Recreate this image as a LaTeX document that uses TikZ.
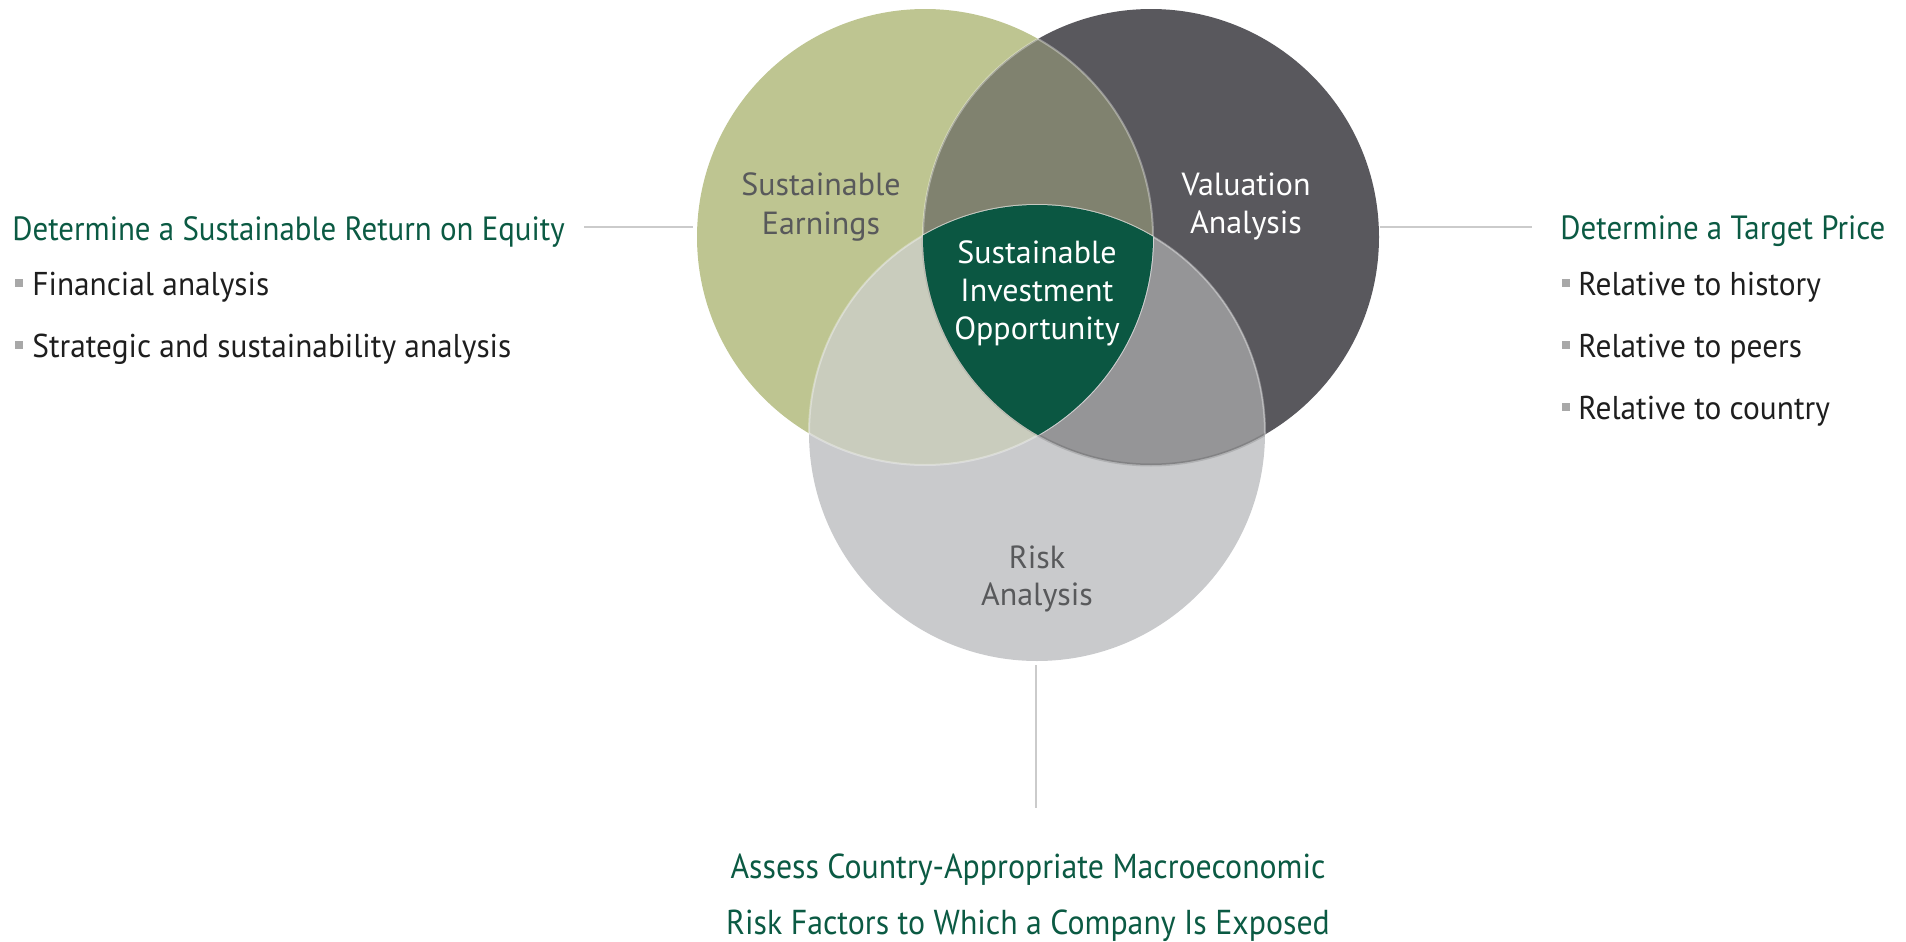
\documentclass[tikz,border=0pt]{standalone}
\usepackage{fontspec}
\setmainfont{PT Sans}
\newfontfamily\hfont[FakeStretch=0.92]{PT Sans}
\newfontfamily\ifont[FakeStretch=0.95]{PT Sans}
\definecolor{cG}{HTML}{BEC591}
\definecolor{cD}{HTML}{59585D}
\definecolor{cR}{HTML}{C9CACC}
\definecolor{cGD}{HTML}{80826F}
\definecolor{cGR}{HTML}{C9CCBD}
\definecolor{cDR}{HTML}{959597}
\definecolor{cT}{HTML}{0B5742}
\definecolor{hgreen}{HTML}{0B5A43}
\definecolor{lblgray}{HTML}{58595B}
\definecolor{itemc}{HTML}{1E1E1E}
\definecolor{sqc}{HTML}{A8A8A8}
\definecolor{connc}{HTML}{CBCBCB}
\begin{document}
\begin{tikzpicture}[x=0.5pt,y=-0.5pt,
  lbl/.style={inner sep=0, anchor=base, font=\fontsize{16}{19}\selectfont},
  hdr/.style={inner sep=0, anchor=base west, text=hgreen, font=\hfont\fontsize{16.8}{18}\selectfont},
  bot/.style={inner sep=0, anchor=base, text=hgreen, font=\hfont\fontsize{17.3}{18}\selectfont},
  item/.style={inner sep=0, anchor=base west, text=itemc, font=\ifont\fontsize{16.5}{18}\selectfont},
  sq/.style={fill=sqc, minimum size=4pt, inner sep=0},
  conn/.style={draw=connc, line width=1pt},
  litedge/.style={draw=white, draw opacity=0.35, line width=1pt},
  darkedge/.style={draw=black, draw opacity=0.12, line width=1.5pt}]
\def\r{114pt}
\useasboundingbox (0,0) rectangle (1906,942);
\coordinate (cg) at (925,237);
\coordinate (cd) at (1151,237);
\coordinate (cr) at (1037,433);
% base circles
\fill[cG] (cg) circle[radius=\r];
\fill[cD] (cd) circle[radius=\r];
\fill[cR] (cr) circle[radius=\r];
% pairwise overlaps
\begin{scope}
  \clip (cg) circle[radius=\r];
  \fill[cGD] (cd) circle[radius=\r];
  \fill[cGR] (cr) circle[radius=\r];
\end{scope}
\begin{scope}
  \clip (cd) circle[radius=\r];
  \fill[cDR] (cr) circle[radius=\r];
\end{scope}
% subtle edges
\begin{scope}
  \clip (cg) circle[radius=\r];
  \draw[litedge] (cd) circle[radius=\r];
  \draw[litedge] (cr) circle[radius=\r];
\end{scope}
\begin{scope}
  \clip (cd) circle[radius=\r];
  \draw[litedge] (cg) circle[radius=\r];
  \draw[litedge] (cr) circle[radius=\r];
\end{scope}
\begin{scope}
  \clip (cr) circle[radius=\r];
  \draw[litedge] (cg) circle[radius=\r];
  \draw[darkedge] (cd) circle[radius=\r];
\end{scope}
% triple overlap
\begin{scope}
  \clip (cg) circle[radius=\r];
  \clip (cd) circle[radius=\r];
  \fill[cT] (cr) circle[radius=\r];
\end{scope}
% circle labels
\node[lbl, text=lblgray] (se1) at (821,195) {Sustainable};
\node[lbl, text=lblgray] (se2) at (821,234) {Earnings};
\node[lbl, text=white] (va1) at (1246,195) {Valuation};
\node[lbl, text=white] (va2) at (1246,233) {Analysis};
\node[lbl, text=white] (si1) at (1037,263) {Sustainable};
\node[lbl, text=white] (si2) at (1037,301) {Investment};
\node[lbl, text=white] (si3) at (1037,339) {Opportunity};
\node[lbl, text=lblgray] (ra1) at (1037,568) {Risk};
\node[lbl, text=lblgray] (ra2) at (1037,605) {Analysis};
% left block
\node[hdr] (lh) at (12,240) {Determine a Sustainable Return on Equity};
\node[sq] (lb1) at (19,283) {};
\node[item] (li1) at (32,295) {Financial analysis};
\node[sq] (lb2) at (19,345) {};
\node[item] (li2) at (32,357) {Strategic and sustainability analysis};
% right block
\node[hdr] (rh) at (1560,239) {Determine a Target Price};
\node[sq] (rb1) at (1566,283) {};
\node[item] (ri1) at (1578,295) {Relative to history};
\node[sq] (rb2) at (1566,345) {};
\node[item] (ri2) at (1578,357) {Relative to peers};
\node[sq] (rb3) at (1566,407) {};
\node[item] (ri3) at (1578,419) {Relative to country};
% bottom block
\node[bot] (bt1) at (1028,878) {Assess Country-Appropriate Macroeconomic};
\node[bot] (bt2) at (1028,934) {Risk Factors to Which a Company Is Exposed};
% connectors
\coordinate (la) at (584,227);
\coordinate (lz) at (693,227);
\coordinate (ra) at (1380,227);
\coordinate (rz) at (1532,227);
\coordinate (ba) at (1036,665);
\coordinate (bz) at (1036,808);
\draw[conn] (la) -- (lz);
\draw[conn] (ra) -- (rz);
\draw[conn] (ba) -- (bz);
\end{tikzpicture}
\end{document}
